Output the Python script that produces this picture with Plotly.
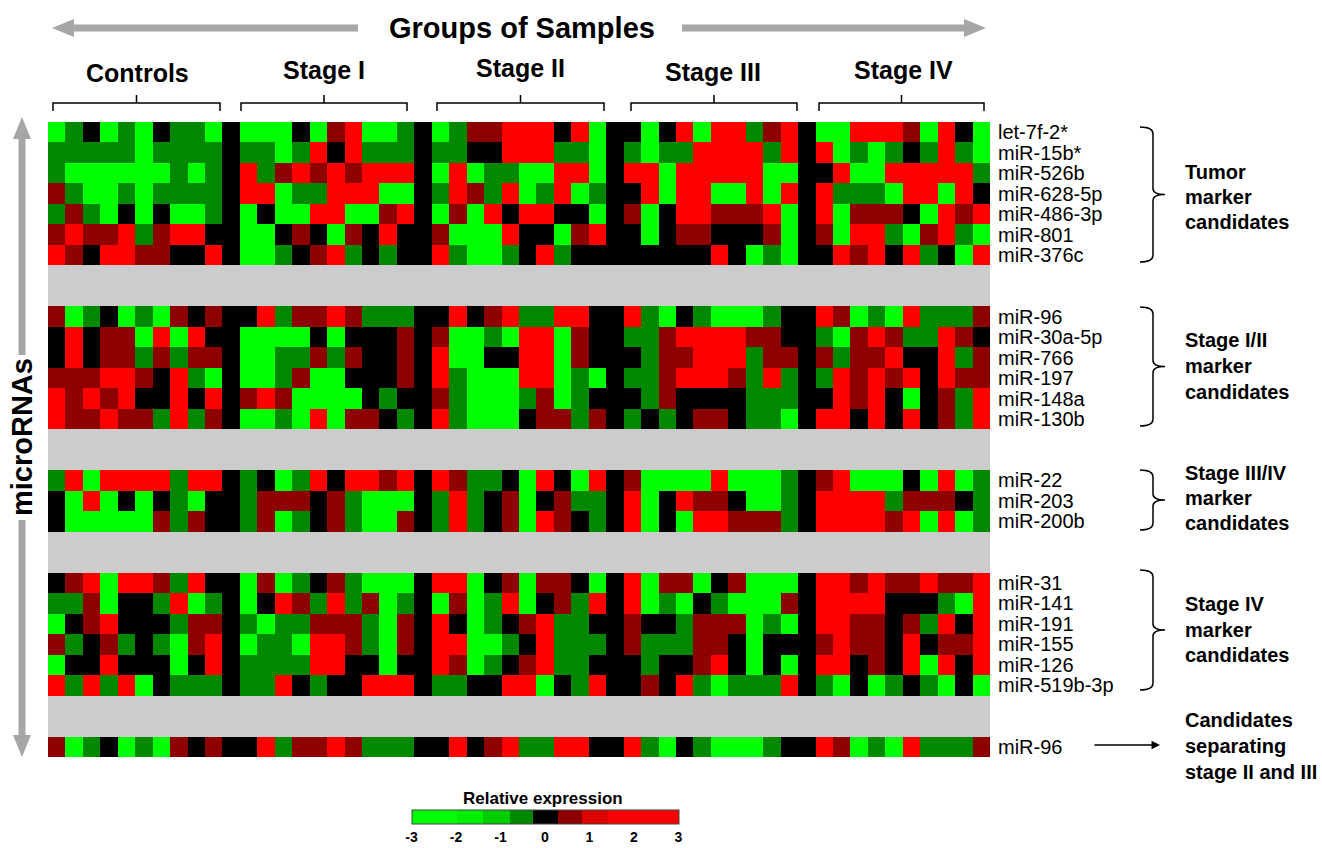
import plotly.graph_objects as go

W, H = 1322, 848
FONT = "Liberation Sans, Arial, sans-serif"

def px(x):
    return x / W

def py(y):
    return 1 - y / H

# ---------------- data ----------------
sample_groups = ["Controls", "Stage I", "Stage II", "Stage III", "Stage IV"]
separator_value = 0  # black column separating sample groups

tumor_mirnas = ["let-7f-2*", "miR-15b*", "miR-526b", "miR-628-5p", "miR-486-3p", "miR-801", "miR-376c"]
tumor_values = [
    [-2.5,-.6,0,-2.5,-.6,-2.5,0,-.6,-.6,-2.5, -2.5,-2.5,-2.5,0,-2.5,.6,2.5,-2.5,-2.5,-.6, -2.5,-.6,.6,.6,2.5,2.5,2.5,0,2.5,-2.5, 0,-2.5,0,2.5,-2.5,2.5,2.5,-.6,.6,2.5, -2.5,-2.5,2.5,2.5,2.5,.6,-2.5,2.5,0,-2.5],
    [-.6,-.6,-.6,-.6,-.6,-2.5,-.6,-.6,-.6,-.6, -.6,-.6,-2.5,-.6,2.5,0,2.5,-.6,-.6,-.6, -.6,-.6,0,0,2.5,2.5,2.5,-.6,-.6,-2.5, -.6,-2.5,-.6,-.6,2.5,2.5,2.5,2.5,-.6,2.5, 2.5,-2.5,-.6,-2.5,-.6,0,-.6,2.5,-.6,-2.5],
    [-.6,-2.5,-2.5,-2.5,-2.5,-2.5,-2.5,-.6,-2.5,-.6, 2.5,-.6,.6,2.5,.6,2.5,.6,2.5,2.5,2.5, -2.5,2.5,-2.5,-.6,-.6,-2.5,-2.5,2.5,2.5,-2.5, 2.5,2.5,-2.5,2.5,2.5,2.5,2.5,2.5,-2.5,-2.5, 0,2.5,-2.5,-2.5,2.5,2.5,2.5,2.5,2.5,-.6],
    [.6,-.6,-2.5,-2.5,-.6,-2.5,-.6,-.6,-.6,-.6, 2.5,2.5,-2.5,-.6,-.6,2.5,2.5,2.5,-2.5,-2.5, -.6,2.5,.6,-.6,2.5,-2.5,-.6,2.5,-2.5,-.6, 0,2.5,-2.5,2.5,2.5,-2.5,-2.5,2.5,-2.5,2.5, 2.5,-.6,-.6,-.6,-2.5,2.5,2.5,-2.5,2.5,0],
    [-.6,.6,-.6,-2.5,0,-2.5,0,-2.5,-2.5,-.6, -2.5,0,-2.5,-2.5,2.5,2.5,-2.5,-2.5,.6,2.5, -2.5,.6,-2.5,2.5,0,2.5,2.5,0,0,-2.5, .6,-2.5,0,2.5,2.5,.6,.6,.6,2.5,-2.5, 2.5,-2.5,.6,.6,.6,0,-2.5,2.5,.6,2.5],
    [.6,2.5,.6,.6,2.5,-.6,.6,2.5,2.5,0, -2.5,-2.5,0,.6,0,-2.5,.6,0,2.5,0, .6,-2.5,-2.5,-2.5,2.5,0,0,-2.5,.6,2.5, 0,-2.5,0,.6,.6,0,0,0,.6,-2.5, .6,-2.5,2.5,2.5,-.6,-2.5,.6,2.5,-.6,-2.5],
    [2.5,.6,0,2.5,2.5,.6,.6,0,0,2.5, -2.5,-2.5,-.6,0,.6,2.5,-.6,0,-.6,0, 2.5,-.6,-2.5,-2.5,-.6,0,2.5,-.6,0,0, 0,0,0,0,0,2.5,0,-2.5,-.6,-2.5, 0,2.5,.6,2.5,0,2.5,-.6,0,-2.5,2.5],
]

stage12_mirnas = ["miR-96", "miR-30a-5p", "miR-766", "miR-197", "miR-148a", "miR-130b"]
mir96_values = [.6,-2.5,-.6,0,-2.5,-.6,-2.5,.6,0,.6, 0,2.5,-.6,.6,.6,2.5,.6,-.6,-.6,-.6, 0,2.5,0,.6,2.5,-.6,-.6,2.5,2.5,0, 2.5,-.6,-2.5,0,-.6,-2.5,-2.5,-2.5,-.6,0, 2.5,.6,-2.5,-.6,-2.5,2.5,-.6,-.6,-.6,.6]
stage12_values = [
    mir96_values,
    [0,2.5,0,.6,.6,-2.5,2.5,-2.5,2.5,0, -2.5,-2.5,-2.5,-2.5,0,-2.5,0,0,0,.6, .6,-2.5,-2.5,-.6,-2.5,2.5,2.5,-2.5,.6,0, -.6,-.6,.6,2.5,2.5,2.5,2.5,.6,.6,0, -.6,-2.5,.6,2.5,.6,-.6,-.6,2.5,.6,0],
    [0,2.5,0,.6,.6,-.6,.6,-.6,.6,.6, -2.5,-2.5,-.6,-.6,.6,-.6,.6,0,0,.6, 2.5,-2.5,-2.5,0,0,2.5,2.5,-2.5,.6,0, 0,-.6,.6,.6,2.5,2.5,2.5,-.6,.6,.6, .6,-.6,.6,.6,2.5,0,0,2.5,-.6,.6],
    [.6,.6,.6,2.5,2.5,.6,0,2.5,-.6,-2.5, -2.5,-2.5,-.6,.6,-2.5,-2.5,0,0,0,.6, 2.5,-.6,-2.5,-2.5,-2.5,2.5,2.5,-2.5,-.6,-2.5, -.6,-.6,.6,2.5,2.5,2.5,.6,-.6,2.5,-.6, -.6,2.5,.6,2.5,.6,2.5,0,2.5,.6,.6],
    [2.5,.6,2.5,.6,2.5,0,0,2.5,0,2.5, .6,2.5,.6,-2.5,-2.5,-2.5,-2.5,0,-.6,0, .6,-.6,-2.5,-2.5,-2.5,-.6,.6,-2.5,-.6,0, 0,-.6,.6,0,0,0,0,-.6,-.6,-.6, 0,2.5,.6,2.5,0,-2.5,0,.6,-.6,2.5],
    [2.5,.6,.6,2.5,.6,.6,-.6,2.5,-.6,.6, -2.5,-2.5,-.6,-2.5,2.5,-2.5,.6,.6,0,-.6, 2.5,-.6,-2.5,-2.5,-2.5,0,.6,.6,-.6,.6, -.6,0,-.6,0,.6,.6,0,-.6,-.6,-2.5, 2.5,2.5,0,2.5,0,2.5,0,.6,-.6,2.5],
]

stage34_mirnas = ["miR-22", "miR-203", "miR-200b"]
stage34_values = [
    [-.6,2.5,-2.5,2.5,2.5,2.5,2.5,-.6,2.5,2.5, -.6,0,-2.5,-.6,2.5,0,2.5,2.5,.6,2.5, 2.5,.6,-.6,-.6,0,-2.5,2.5,0,-2.5,2.5, .6,-2.5,-2.5,-2.5,-2.5,2.5,-2.5,-2.5,-2.5,-.6, .6,2.5,-2.5,-2.5,-2.5,0,-2.5,2.5,-2.5,-.6],
    [0,-2.5,2.5,-2.5,0,-2.5,0,-.6,-2.5,0, -.6,.6,.6,.6,0,.6,-.6,-2.5,-2.5,-2.5, -.6,2.5,-.6,0,.6,-2.5,0,.6,-.6,-.6, 2.5,-2.5,0,2.5,.6,.6,0,-2.5,-2.5,-.6, 2.5,2.5,2.5,2.5,-.6,.6,.6,.6,0,-.6],
    [0,-2.5,-2.5,-2.5,-2.5,-2.5,.6,-.6,.6,0, -.6,.6,-2.5,-.6,0,.6,-.6,-2.5,-2.5,.6, -.6,2.5,-.6,0,.6,-2.5,2.5,.6,0,-.6, 2.5,-2.5,0,-2.5,2.5,2.5,.6,.6,.6,-.6, 2.5,2.5,2.5,2.5,.6,2.5,-2.5,2.5,-2.5,-.6],
]

stage4_mirnas = ["miR-31", "miR-141", "miR-191", "miR-155", "miR-126", "miR-519b-3p"]
stage4_values = [
    [0,.6,2.5,-2.5,2.5,2.5,.6,-.6,2.5,0, -2.5,.6,-2.5,-.6,0,.6,-.6,-2.5,-2.5,-2.5, 2.5,2.5,-2.5,0,.6,-2.5,.6,.6,0,-2.5, 2.5,-2.5,.6,.6,-2.5,0,.6,-2.5,-2.5,-2.5, 2.5,2.5,.6,2.5,.6,.6,2.5,.6,.6,2.5],
    [-.6,-.6,.6,-2.5,0,0,-.6,2.5,-2.5,-.6, -2.5,0,2.5,.6,-.6,2.5,-.6,.6,-2.5,-.6, -2.5,.6,-2.5,-.6,2.5,-2.5,0,.6,-.6,2.5, 2.5,-2.5,-.6,-2.5,0,-.6,-2.5,-2.5,-2.5,.6, 2.5,2.5,2.5,2.5,0,0,0,-.6,-2.5,2.5],
    [-2.5,0,.6,2.5,0,0,0,-.6,.6,.6, -.6,-2.5,-.6,-.6,.6,.6,.6,-.6,-2.5,.6, 2.5,0,-2.5,-.6,0,.6,2.5,-.6,-.6,0, .6,0,0,-.6,.6,.6,.6,-2.5,-.6,-2.5, 2.5,2.5,.6,.6,0,.6,-.6,2.5,0,2.5],
    [.6,-.6,0,.6,-.6,0,-.6,-2.5,.6,2.5, -2.5,-.6,-.6,-2.5,2.5,2.5,.6,-.6,-2.5,.6, 2.5,2.5,-2.5,-2.5,-.6,0,2.5,-.6,-.6,-.6, .6,-.6,-.6,-.6,.6,.6,0,-2.5,0,0, .6,2.5,.6,.6,0,2.5,0,.6,.6,2.5],
    [-2.5,0,0,2.5,0,0,0,-2.5,0,2.5, -.6,-.6,-.6,-.6,2.5,2.5,0,0,-2.5,0, 2.5,.6,-2.5,-.6,0,.6,2.5,-.6,-.6,0, 0,-.6,0,0,.6,2.5,0,-2.5,0,-2.5, 2.5,2.5,0,.6,0,2.5,-2.5,2.5,0,2.5],
    [2.5,-.6,2.5,-.6,2.5,-2.5,0,-.6,-.6,-.6, -.6,-.6,2.5,0,-.6,0,0,2.5,2.5,2.5, -.6,-.6,0,0,2.5,2.5,-2.5,0,-.6,2.5, 0,.6,0,2.5,-.6,-2.5,-.6,-.6,-.6,2.5, -.6,-2.5,0,-2.5,-.6,0,-.6,-2.5,0,-2.5],
]

separating_mirnas = ["miR-96"]
separating_values = [mir96_values]

block_labels = [
    ["Tumor", "marker", "candidates"],
    ["Stage I/II", "marker", "candidates"],
    ["Stage III/IV", "marker", "candidates"],
    ["Stage IV", "marker", "candidates"],
    ["Candidates", "separating", "stage II and III"],
]
colorbar_ticks = [-3, -2, -1, 0, 1, 2, 3]

# ---------------- build matrix ----------------
SAMPLES_PER_GROUP = 10

def with_separators(vals):
    out = []
    for g in range(len(sample_groups)):
        if g > 0:
            out.append(separator_value)
        out.extend(vals[g * SAMPLES_PER_GROUP:(g + 1) * SAMPLES_PER_GROUP])
    return out

ncols = len(sample_groups) * SAMPLES_PER_GROUP + len(sample_groups) - 1
gap_row = [None] * ncols
blocks = [
    (tumor_mirnas, tumor_values),
    (stage12_mirnas, stage12_values),
    (stage34_mirnas, stage34_values),
    (stage4_mirnas, stage4_values),
    (separating_mirnas, separating_values),
]
z = []
row_names = []
for bi, (names, vals) in enumerate(blocks):
    if bi > 0:
        z.append(gap_row); z.append(gap_row)
        row_names += [None, None]
    for n, v in zip(names, vals):
        z.append(with_separators(v))
        row_names.append(n)
nrows = len(z)

colorscale = [
    [0.0, "#00FF00"], [0.1667, "#00FF00"],
    [0.1667, "#00EE00"], [0.2667, "#00EE00"],
    [0.2667, "#00CC00"], [0.3667, "#00CC00"],
    [0.3667, "#008800"], [0.455, "#008800"],
    [0.455, "#000000"], [0.545, "#000000"],
    [0.545, "#8E0000"], [0.638, "#8E0000"],
    [0.638, "#DD0000"], [0.733, "#DD0000"],
    [0.733, "#FF0000"], [1.0, "#FF0000"],
]

fig = go.Figure()
fig.add_trace(go.Heatmap(
    z=z, x=list(range(ncols)), y=list(range(nrows)),
    zmin=-3, zmax=3, colorscale=colorscale, hoverongaps=False,
    colorbar=dict(
        orientation="h", x=px(545), xanchor="center", y=py(810), yanchor="top",
        len=267, lenmode="pixels", thickness=14, thicknessmode="pixels",
        xpad=0, ypad=0, outlinewidth=1, outlinecolor="#444444",
        tickvals=colorbar_ticks, ticktext=[f"<b>{t}</b>" for t in colorbar_ticks],
        ticks="", ticklen=0, tickfont=dict(family=FONT, size=14, color="black"),
        ticklabelposition="outside bottom",
    ),
))

TOP, BOTTOM, LEFT, RIGHT = 122, 757, 48, 990
fig.update_layout(
    width=W, height=H, margin=dict(l=0, r=0, t=0, b=0),
    paper_bgcolor="white", plot_bgcolor="#CCCCCC",
    xaxis=dict(domain=[px(LEFT), px(RIGHT)], range=[-0.5, ncols - 0.5], visible=False),
    yaxis=dict(domain=[py(BOTTOM), py(TOP)], range=[nrows - 0.5, -0.5], visible=False),
    showlegend=False,
)

ann = []
shapes = []
ARROW_GRAY = "#A6A6A6"

def text_at(t, x, y, size, xanchor="center", angle=0):
    return dict(text=t, x=px(x), y=py(y), xref="paper", yref="paper", xanchor=xanchor, yanchor="middle",
                textangle=angle, showarrow=False, font=dict(family=FONT, size=size, color="black"))

ann.append(text_at("<b>Groups of Samples</b>", 522, 28, 29))

def poly(points, color):
    d = "M " + " L ".join(f"{px(a):.5f},{py(b):.5f}" for a, b in points) + " Z"
    return dict(type="path", path=d, xref="paper", yref="paper", fillcolor=color, line=dict(width=0))

def seg(x0, y0, x1, y1, color, width):
    return dict(type="line", x0=px(x0), y0=py(y0), x1=px(x1), y1=py(y1), xref="paper", yref="paper",
                line=dict(color=color, width=width))

shapes.append(seg(358, 28, 72, 28, ARROW_GRAY, 7))
shapes.append(poly([(52, 28), (74, 19), (74, 37)], ARROW_GRAY))
shapes.append(seg(682, 28, 966, 28, ARROW_GRAY, 7))
shapes.append(poly([(986, 28), (964, 19), (964, 37)], ARROW_GRAY))
shapes.append(seg(22, 355, 22, 138, ARROW_GRAY, 7))
shapes.append(poly([(22, 117), (13, 139), (31, 139)], ARROW_GRAY))
shapes.append(seg(22, 520, 22, 737, ARROW_GRAY, 7))
shapes.append(poly([(22, 757), (13, 735), (31, 735)], ARROW_GRAY))

ann.append(text_at("<b>microRNAs</b>", 22, 437, 29, angle=-90))

group_label_pos = [(137, 73), (324, 70), (520, 68), (713, 72), (903, 70)]
group_brackets = [(53, 220), (241, 407), (437, 604), (631, 797), (819, 984)]
for name, (lx, ly), (b0, b1) in zip(sample_groups, group_label_pos, group_brackets):
    ann.append(text_at(f"<b>{name}</b>", lx, ly, 25))
    c = (b0 + b1) / 2
    d = (f"M {px(b0):.5f},{py(111):.5f} L {px(b0):.5f},{py(103):.5f} L {px(b1):.5f},{py(103):.5f} "
         f"L {px(b1):.5f},{py(111):.5f} M {px(c):.5f},{py(103):.5f} L {px(c):.5f},{py(95):.5f}")
    shapes.append(dict(type="path", path=d, xref="paper", yref="paper", line=dict(color="black", width=1.5)))

for i, n in enumerate(row_names):
    if n is None:
        continue
    ann.append(dict(text=n, x=px(996), y=i, xref="paper", yref="y", xanchor="left", yanchor="middle",
                    showarrow=False, font=dict(family=FONT, size=20, color="black")))

bracket_spans = [(127, 262), (307, 426), (470, 530), (570, 690)]
label_lines_y = [(172, 197, 222), (340, 366, 392), (473, 498, 523), (604, 630, 655), (720, 746, 772)]
BX = 1153
for (yt, yb) in bracket_spans:
    ym = (yt + yb) / 2
    pts = [
        ("M", 1140, yt), ("Q", BX, yt, BX, yt + 7), ("L", BX, ym - 6),
        ("Q", BX, ym, BX + 12, ym), ("Q", BX, ym, BX, ym + 6),
        ("L", BX, yb - 7), ("Q", BX, yb, 1140, yb),
    ]
    d = ""
    for p in pts:
        cmd = p[0]
        coords = p[1:]
        cs = " ".join(f"{px(coords[k]):.5f},{py(coords[k+1]):.5f}" for k in range(0, len(coords), 2))
        d += f"{cmd} {cs} "
    shapes.append(dict(type="path", path=d.strip(), xref="paper", yref="paper",
                       line=dict(color="black", width=1.5)))

for lines, ys in zip(block_labels, label_lines_y):
    for t, yy in zip(lines, ys):
        ann.append(text_at(f"<b>{t}</b>", 1183, yy, 20, xanchor="left"))

ann.append(dict(text="", x=px(1160), y=py(745), xref="paper", yref="paper",
                ax=-67, ay=0, axref="pixel", ayref="pixel",
                showarrow=True, arrowhead=2, arrowsize=1.3, arrowwidth=1.3, arrowcolor="black"))

ann.append(text_at("<b>Relative expression</b>", 543, 798, 17))

fig.update_layout(annotations=ann, shapes=shapes)
fig.write_html("out.html")
